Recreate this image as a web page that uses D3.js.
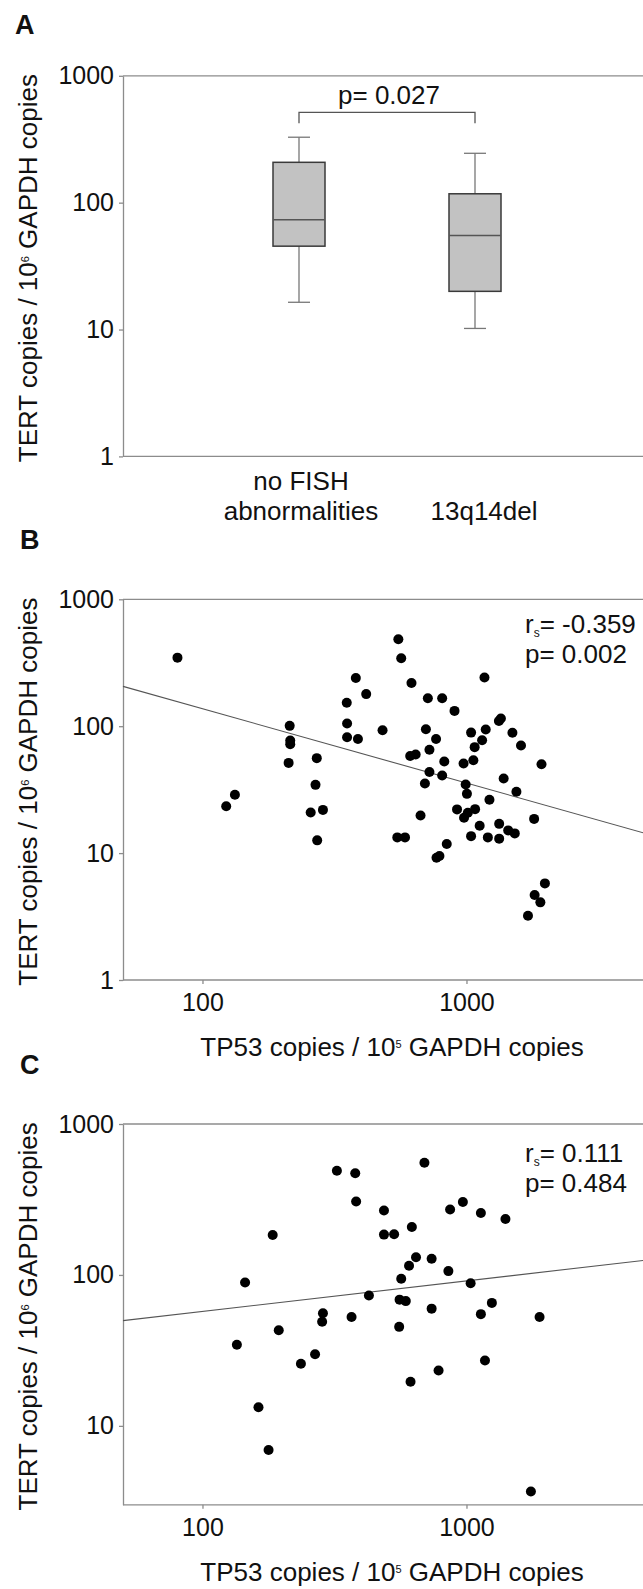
<!DOCTYPE html>
<html>
<head>
<meta charset="utf-8">
<script src="https://cdn.jsdelivr.net/npm/d3@7"></script>
<style>
  body { margin: 0; background: #fff; }
  svg { display: block; font-family: "Liberation Sans", Arial, sans-serif; }
  .axis path, .axis line { stroke: #8c8c8c; stroke-width: 1.3px; }
  .axis text { font-size: 25px; fill: #111; font-family: "Liberation Sans", Arial, sans-serif; }
</style>
</head>
<body>
<div id="chart"></div>
<script>
// ---- panel A: TERT by FISH group (box plot stats) ----
const groups = ["no FISH abnormalities", "13q14del"];
const groupLabels = [["no FISH", "abnormalities"], ["", "13q14del"]];
const whiskerLow = [16.4, 10.2];
const quart1 = [45.4, 20];
const median = [73.3, 55];
const quart3 = [208, 117.5];
const whiskerHigh = [328, 245];
const pTextA = "p= 0.027";

// ---- panel B: TP53 vs TERT ----
const tp53B = [80.4, 123, 132.7, 214, 215, 215, 212, 271, 268, 257, 286, 272, 352, 353, 353, 388, 381, 417, 481, 552,
  566, 619, 547, 585, 612, 642, 670, 696, 702, 724, 724, 714, 809, 767, 824, 809, 770, 790, 842, 901,
  921, 975, 993, 1004, 979, 1012, 1041, 1074, 1062, 1078, 1041, 1122, 1146, 1170, 1183, 1222, 1205, 1327, 1350, 1383,
  1330, 1330, 1439, 1524, 1493, 1546, 1609, 1804, 1924, 1982, 1812, 1905, 1710];
const tertB = [347, 23.4, 28.8, 100.6, 77, 72, 51.4, 56, 34.5, 20.9, 21.9, 12.6, 153, 105, 81.8, 79.4, 240, 179, 93, 484,
  343, 219, 13.3, 13.3, 58.3, 59.8, 19.8, 35.4, 94.6, 65.2, 43.5, 166, 166, 79.4, 52.7, 40.9, 9.18, 9.5, 11.8, 132,
  22.1, 50.8, 34.7, 29.3, 19, 20.8, 89, 68.4, 53.9, 22.2, 13.6, 16.4, 77.6, 242, 94.2, 26.3, 13.3, 110, 115, 38.7,
  17, 13, 15.1, 14.3, 88.7, 30.4, 70.5, 18.6, 50.2, 5.77, 4.67, 4.09, 3.21];
const fitB = [[50, 206], [5000, 13.9]];
const statsB = ["-0.359", "0.002"];

// ---- panel C: TP53 vs TERT ----
const tp53C = [135, 145, 163, 178, 184.5, 194.5, 236, 267, 286, 284, 323, 367, 379, 382, 427, 487, 487, 532, 556, 558,
  566, 589, 606, 621, 644, 614, 693, 738, 738, 784, 854, 867, 969, 1037, 1134, 1134, 1175, 1248, 1405, 1892, 1754];
const tertC = [34.5, 89, 13.3, 6.93, 184, 43, 25.8, 29.8, 55.8, 49, 490, 52.7, 472, 307, 73, 267, 185, 186, 45.3, 68.6,
  94.4, 67.1, 115, 208, 131, 19.6, 553, 128, 59.8, 23.3, 106, 271, 304, 88, 257, 55, 27.1, 65.3, 235, 52.7, 3.67];
const fitC = [[50, 49.8], [5000, 126.5]];
const statsC = ["0.111", "0.484"];

// ticks
const yTicksAB = [1, 10, 100, 1000];
const yTicksC = [10, 100, 1000];
const xTicks = [100, 1000];

const WIDTH = 643, HEIGHT = 1589;
const LEFT = 123, RIGHT = 651;

const svg = d3.select("#chart").append("svg")
  .attr("width", WIDTH)
  .attr("height", HEIGHT);

function panelLetter(letter, x, y) {
  svg.append("text")
    .attr("x", x).attr("y", y)
    .attr("font-size", "27px")
    .attr("font-weight", "bold")
    .attr("fill", "#111")
    .text(letter);
}

// title with a small raised exponent
function supTitle(g, before, sup, after) {
  g.append("tspan").text(before);
  g.append("tspan").attr("dy", -8).attr("font-size", "11px").text(sup);
  g.append("tspan").attr("dy", 8).text(after);
}

function yTitle(y) {
  const r = y.range();
  const cy = (r[0] + r[1]) / 2 + 2;
  const t = svg.append("text")
    .attr("transform", `translate(37, ${cy}) rotate(-90)`)
    .attr("text-anchor", "middle")
    .attr("font-size", "26px")
    .attr("fill", "#111");
  supTitle(t, "TERT copies / 10", "6", " GAPDH copies");
}

function yAxis(y, ticks) {
  svg.append("g")
    .attr("class", "axis")
    .attr("transform", `translate(${LEFT}, 0)`)
    .call(d3.axisLeft(y).tickValues(ticks).tickFormat(d3.format("d"))
      .tickSize(4).tickSizeOuter(0).tickPadding(5));
}

function frame(y) {
  const r = y.range();
  // top border and bottom line run past the right edge, like the cropped original
  svg.append("line").attr("x1", LEFT).attr("x2", WIDTH + 10)
    .attr("y1", r[1]).attr("y2", r[1])
    .attr("stroke", "#8c8c8c").attr("stroke-width", 1.3);
  svg.append("line").attr("x1", LEFT).attr("x2", WIDTH + 10)
    .attr("y1", r[0]).attr("y2", r[0])
    .attr("stroke", "#8c8c8c").attr("stroke-width", 1.3);
}

/******************************** Panel A ********************************/
panelLetter("A", 15, 34);

const yA = d3.scaleLog().domain([1, 1000]).range([456.4, 75.8]);
const xA = d3.scalePoint().domain(groups).range([LEFT, RIGHT]).padding(1);

frame(yA);
yAxis(yA, yTicksAB);
yTitle(yA);

const boxW = 52, capW = 22;
const boxes = svg.append("g").selectAll("g")
  .data(groups)
  .join("g")
  .attr("transform", d => `translate(${xA(d)}, 0)`);

boxes.append("line")
  .attr("y1", (d, i) => yA(whiskerHigh[i]))
  .attr("y2", (d, i) => yA(whiskerLow[i]))
  .attr("stroke", "#777").attr("stroke-width", 1.3);
boxes.append("line")
  .attr("x1", -capW / 2).attr("x2", capW / 2)
  .attr("y1", (d, i) => yA(whiskerHigh[i])).attr("y2", (d, i) => yA(whiskerHigh[i]))
  .attr("stroke", "#777").attr("stroke-width", 1.3);
boxes.append("line")
  .attr("x1", -capW / 2).attr("x2", capW / 2)
  .attr("y1", (d, i) => yA(whiskerLow[i])).attr("y2", (d, i) => yA(whiskerLow[i]))
  .attr("stroke", "#777").attr("stroke-width", 1.3);
boxes.append("rect")
  .attr("x", -boxW / 2).attr("width", boxW)
  .attr("y", (d, i) => yA(quart3[i]))
  .attr("height", (d, i) => yA(quart1[i]) - yA(quart3[i]))
  .attr("fill", "#c2c2c2").attr("stroke", "#3a3a3a").attr("stroke-width", 1.5);
boxes.append("line")
  .attr("x1", -boxW / 2).attr("x2", boxW / 2)
  .attr("y1", (d, i) => yA(median[i])).attr("y2", (d, i) => yA(median[i]))
  .attr("stroke", "#555").attr("stroke-width", 1.5);

// category labels
boxes.each(function(d, i) {
  const t = d3.select(this).append("text")
    .attr("text-anchor", "middle")
    .attr("font-size", "26px")
    .attr("fill", "#111");
  groupLabels[i].forEach((line, k) => {
    t.append("tspan").attr("x", i === 1 ? 9 : 2).attr("y", 490 + k * 29.6).text(line);
  });
});

// significance bracket
const bx1 = xA(groups[0]), bx2 = xA(groups[1]);
const by = yA.range()[1] + 36.5;
svg.append("path")
  .attr("d", `M${bx1},${by + 11} V${by} H${bx2} V${by + 11}`)
  .attr("fill", "none").attr("stroke", "#555").attr("stroke-width", 1.3);
svg.append("text")
  .attr("x", (bx1 + bx2) / 2 + 2).attr("y", by - 8)
  .attr("text-anchor", "middle")
  .attr("font-size", "26px").attr("fill", "#111")
  .text(pTextA);

/******************************** Scatter panels ********************************/
function scatter(cfg) {
  const x = d3.scaleLog().domain([50, 5000]).range([LEFT, RIGHT]);
  const y = d3.scaleLog().domain(cfg.yDomain).range(cfg.yRange);

  frame(y);
  yAxis(y, cfg.yTicks);
  yTitle(y);

  svg.append("g")
    .attr("class", "axis")
    .attr("transform", `translate(0, ${cfg.yRange[0]})`)
    .call(d3.axisBottom(x).tickValues(xTicks).tickFormat(d3.format("d"))
      .tickSize(4).tickSizeOuter(0).tickPadding(9.5))
    .call(g => g.select(".domain").remove());

  const xt = svg.append("text")
    .attr("x", 392).attr("y", cfg.yRange[0] + 76)
    .attr("text-anchor", "middle")
    .attr("font-size", "26px").attr("fill", "#111");
  supTitle(xt, "TP53 copies / 10", "5", " GAPDH copies");

  // regression line
  const line = d3.line().x(d => x(d[0])).y(d => y(d[1]));
  svg.append("path")
    .attr("d", line(cfg.fit))
    .attr("fill", "none").attr("stroke", "#555").attr("stroke-width", 1.1);

  svg.append("g").selectAll("circle")
    .data(cfg.xs.map((v, i) => [v, cfg.ys[i]]))
    .join("circle")
    .attr("cx", d => x(d[0]))
    .attr("cy", d => y(d[1]))
    .attr("r", 5)
    .attr("fill", "#000");

  const top = cfg.yRange[1];
  const r = svg.append("text")
    .attr("x", 525).attr("y", top + cfg.statsDy[0])
    .attr("font-size", "26px").attr("fill", "#111");
  r.append("tspan").text("r");
  r.append("tspan").attr("dy", 4).attr("font-size", "12px").text("s");
  r.append("tspan").attr("dy", -4).text("= " + cfg.stats[0]);
  svg.append("text")
    .attr("x", 525).attr("y", top + cfg.statsDy[1])
    .attr("font-size", "26px").attr("fill", "#111")
    .text("p= " + cfg.stats[1]);
}

panelLetter("B", 20, 549);
scatter({
  xs: tp53B, ys: tertB, fit: fitB, stats: statsB,
  yDomain: [1, 1000], yRange: [980, 599.3], yTicks: yTicksAB,
  statsDy: [34, 64]
});

panelLetter("C", 20, 1073.5);
scatter({
  xs: tp53C, ys: tertC, fit: fitC, stats: statsC,
  yDomain: [3, 1000], yRange: [1504.8, 1124], yTicks: yTicksC,
  statsDy: [38, 68]
});
</script>
</body>
</html>
